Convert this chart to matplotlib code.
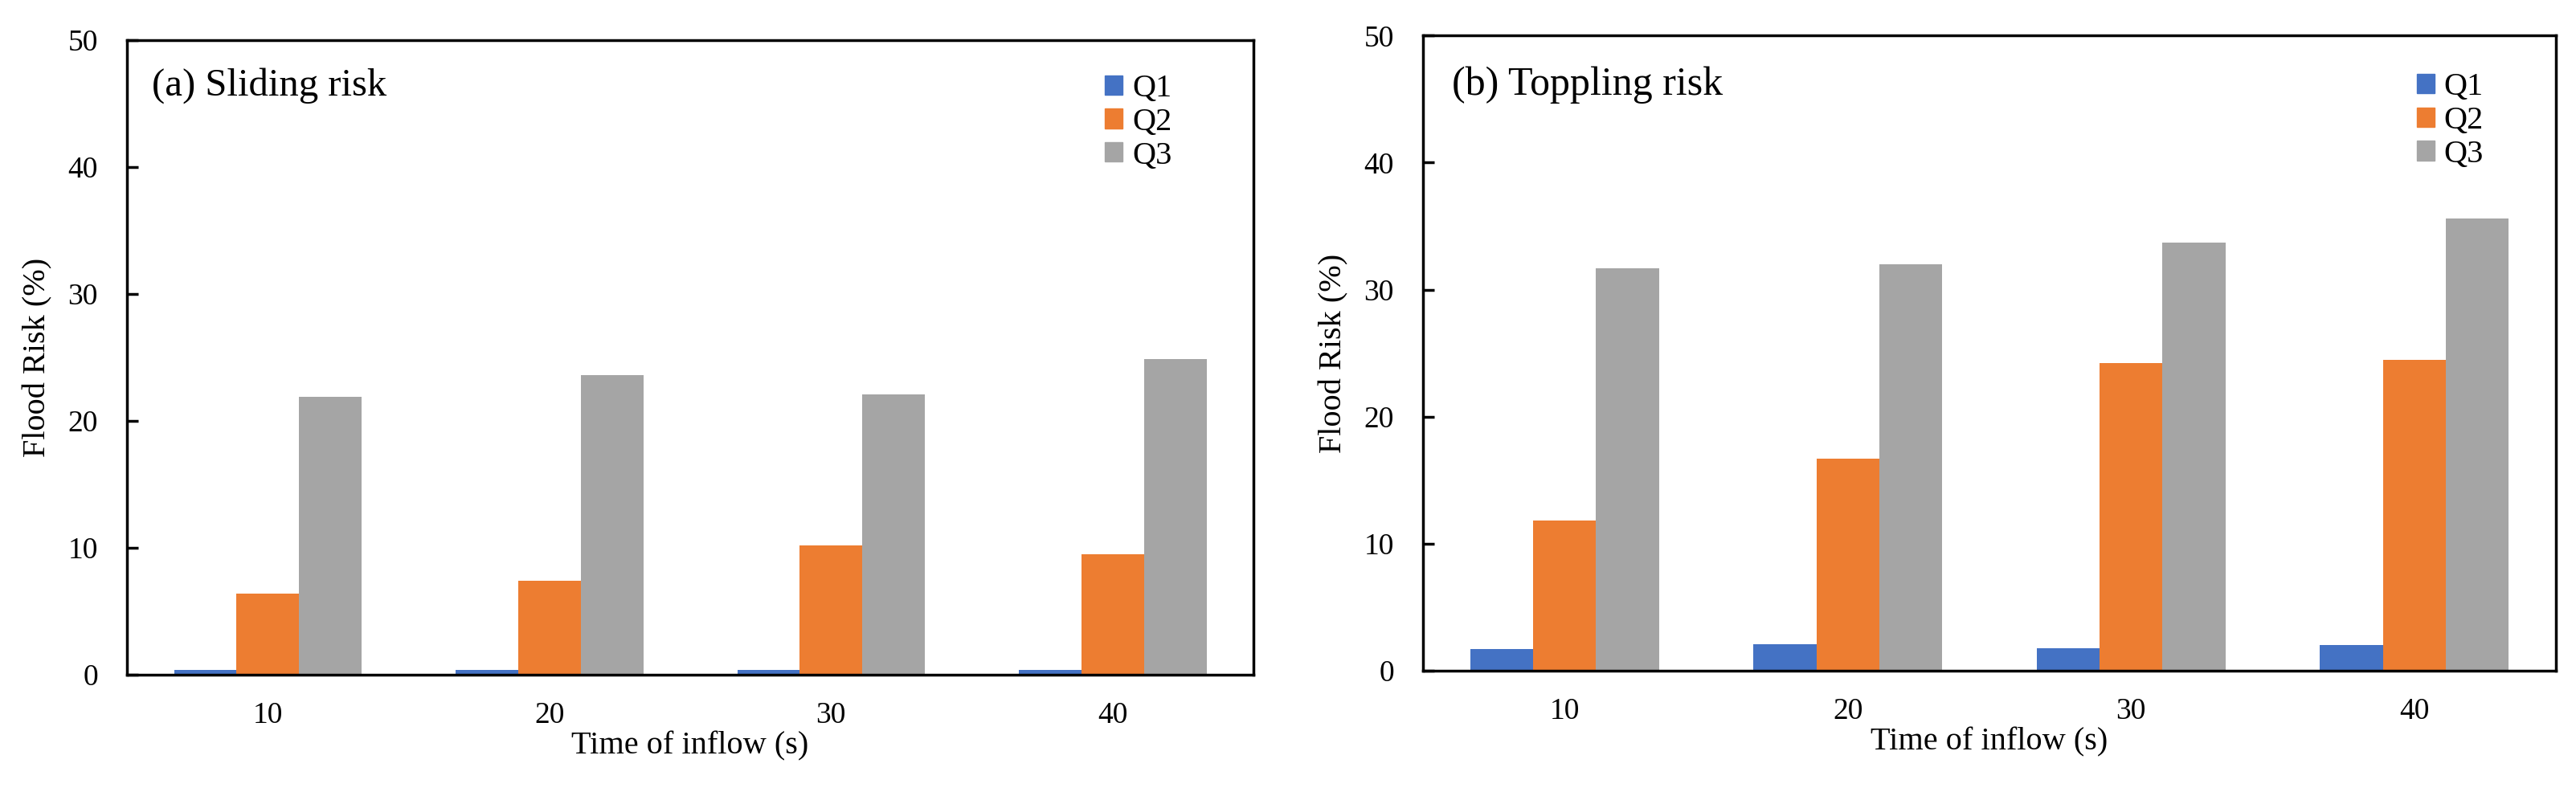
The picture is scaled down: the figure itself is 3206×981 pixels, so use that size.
import numpy as np
import matplotlib
matplotlib.use("Agg")
import matplotlib.pyplot as plt
from matplotlib.patches import Patch

# --- data ---
times = ["10", "20", "30", "40"]
series = ["Q1", "Q2", "Q3"]
colors = ["#4472C4", "#ED7D31", "#A5A5A5"]

sliding_q1 = [0.4, 0.4, 0.4, 0.4]
sliding_q2 = [6.4, 7.4, 10.2, 9.5]
sliding_q3 = [21.9, 23.6, 22.1, 24.9]

toppling_q1 = [1.7, 2.1, 1.8, 2.0]
toppling_q2 = [11.8, 16.7, 24.2, 24.5]
toppling_q3 = [31.7, 32.0, 33.7, 35.6]

plt.rcParams['font.family'] = ['Liberation Serif', 'DejaVu Serif']

fig = plt.figure(figsize=(32.06, 9.81), dpi=100)

panels = [
    # rect, title, values, title pos, legend anchor, title size
    ([0.0493, 0.1437, 0.4373, 0.8053], "(a) Sliding risk",
     [sliding_q1, sliding_q2, sliding_q3], (0.022, 0.928), (0.868, 0.947), 35),
    ([0.5524, 0.1488, 0.4398, 0.8060], "(b) Toppling risk",
     [toppling_q1, toppling_q2, toppling_q3], (0.0255, 0.922), (0.877, 0.942), 36),
]

bar_w = 0.222
x = np.arange(len(times))

for rect, title, vals, tpos, lpos, tsize in panels:
    ax = fig.add_axes(rect)
    for i, (v, c) in enumerate(zip(vals, colors)):
        ax.bar(x + (i - 1) * bar_w, v, width=bar_w, color=c, label=series[i])

    ax.set_xlim(-0.5, len(times) - 0.5)
    ax.set_ylim(0, 50)
    ax.set_yticks(range(0, 51, 10))
    ax.set_xticks(x)
    ax.set_xticklabels(times)

    for sp in ax.spines.values():
        sp.set_linewidth(2.5)
        sp.set_color("black")

    ax.tick_params(axis='y', direction='in', length=10, width=2.5,
                   labelsize=27, pad=26)
    ax.tick_params(axis='x', length=0, labelsize=27, pad=24)

    ax.set_xlabel("Time of inflow (s)", fontsize=29, labelpad=2)
    ax.set_ylabel("Flood Risk (%)", fontsize=29)
    ax.yaxis.set_label_coords(-0.066, 0.5)

    ax.text(tpos[0], tpos[1], title, transform=ax.transAxes,
            fontsize=tsize, ha='left', va='center')

    handles = [Patch(color=c, label=s) for c, s in zip(colors, series)]
    ax.legend(handles=handles, loc='upper left', bbox_to_anchor=lpos,
              frameon=False, fontsize=29, borderpad=0, borderaxespad=0,
              handlelength=0.55, handleheight=0.55, handletextpad=0.3,
              labelspacing=0.12)

fig.savefig("out.png", dpi=100)
